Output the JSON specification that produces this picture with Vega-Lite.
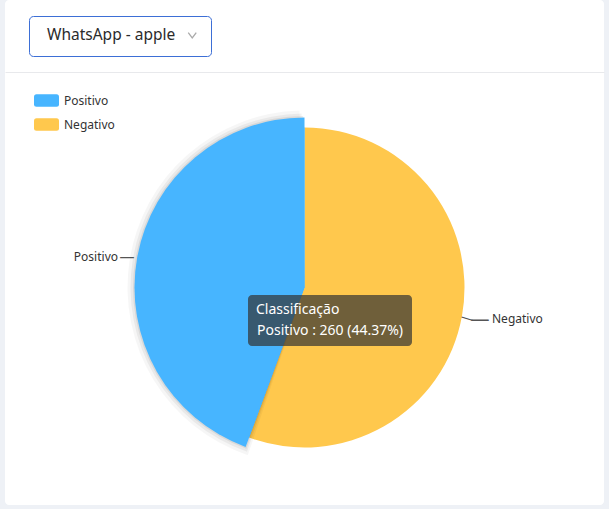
{
  "$schema": "https://vega.github.io/schema/vega-lite/v6.json",
  "width": 609,
  "height": 509,
  "autosize": {"type": "fit", "contains": "padding"},
  "padding": {"top": 0, "left": 5, "right": 5, "bottom": 4},
  "background": "#eef1f6",
  "config": {
    "view": {"stroke": null, "fill": "white", "cornerRadius": 4},
    "font": "Noto Sans"
  },
  "data": {"values": [{"cat": "Negativo", "value": 326}, {"cat": "Positivo", "value": 260}]},
  "transform": [
    {"joinaggregate": [{"op": "sum", "field": "value", "as": "total"}]},
    {"calculate": "datum.cat + ' : ' + datum.value + ' (' + format(datum.value / datum.total, '.2%') + ')'", "as": "tip"}
  ],
  "encoding": {
    "theta": {"field": "value", "type": "quantitative", "stack": true},
    "order": {"field": "cat", "sort": "ascending"}
  },
  "layer": [
    {
      "mark": {"type": "arc", "outerRadius": 160, "yOffset": 35},
      "encoding": {
        "color": {
          "field": "cat", "type": "nominal",
          "scale": {"domain": ["Positivo", "Negativo"], "range": ["#47b5ff", "#ffc84d"]},
          "legend": {
            "orient": "none", "legendX": 29, "legendY": 88, "title": null,
            "symbolType": "M-0.8,-0.5L0.8,-0.5Q1,-0.5 1,-0.3L1,0.3Q1,0.5 0.8,0.5L-0.8,0.5Q-1,0.5 -1,0.3L-1,-0.3Q-1,-0.5 -0.8,-0.5Z",
            "symbolSize": 625, "symbolStrokeWidth": 0, "symbolOpacity": 1,
            "labelFontSize": 12, "labelColor": "#333", "labelOffset": 5, "rowPadding": 5
          }
        }
      }
    },
    {
      "mark": {"type": "arc", "outerRadius": 177, "yOffset": 35, "thetaOffset": -0.028, "theta2Offset": 0.028, "color": "black"},
      "encoding": {"opacity": {"condition": {"test": "datum.cat === 'Positivo'", "value": 0.035}, "value": 0}}
    },
    {
      "mark": {"type": "arc", "outerRadius": 174, "yOffset": 35, "thetaOffset": -0.017, "theta2Offset": 0.017, "color": "black"},
      "encoding": {"opacity": {"condition": {"test": "datum.cat === 'Positivo'", "value": 0.05}, "value": 0}}
    },
    {
      "mark": {"type": "arc", "outerRadius": 171.5, "yOffset": 35, "thetaOffset": -0.008, "theta2Offset": 0.008, "color": "black"},
      "encoding": {"opacity": {"condition": {"test": "datum.cat === 'Positivo'", "value": 0.07}, "value": 0}}
    },
    {
      "mark": {"type": "arc", "outerRadius": 170, "yOffset": 35},
      "encoding": {
        "fill": {"condition": {"test": "datum.cat === 'Positivo'", "value": "#47b5ff"}, "value": "transparent"}
      }
    },
    {
      "mark": {"type": "text", "radius": 160, "align": "center", "baseline": "middle", "dx": -20, "dy": 33, "fontSize": 15, "color": "#555"},
      "encoding": {"text": {"condition": {"test": "datum.cat === 'Positivo'", "value": "—"}, "value": ""}}
    },
    {
      "mark": {"type": "text", "radius": 160, "align": "center", "baseline": "middle", "dx": 18, "dy": 39.3, "fontSize": 19, "color": "#555"},
      "encoding": {"text": {"condition": {"test": "datum.cat === 'Negativo'", "value": "—"}, "value": ""}}
    },
    {
      "mark": {"type": "text", "radius": 160, "align": "center", "baseline": "middle", "dx": 16.25, "dy": 34.35, "fontSize": 13, "angle": 17, "color": "#555"},
      "encoding": {"text": {"condition": {"test": "datum.cat === 'Negativo'", "value": "—"}, "value": ""}}
    },
    {
      "mark": {"type": "text", "radius": 160, "align": "right", "baseline": "middle", "dx": -29, "dy": 33, "fontSize": 12, "color": "#333"},
      "encoding": {"text": {"condition": {"test": "datum.cat === 'Positivo'", "field": "cat", "type": "nominal"}, "value": ""}}
    },
    {
      "mark": {"type": "text", "radius": 160, "align": "left", "baseline": "middle", "dx": 30, "dy": 38.5, "fontSize": 12, "color": "#333"},
      "encoding": {"text": {"condition": {"test": "datum.cat === 'Negativo'", "field": "cat", "type": "nominal"}, "value": ""}}
    },
    {
      "transform": [{"filter": "datum.cat === 'Positivo'"}],
      "mark": {"type": "point", "opacity": 0, "size": 0},
      "encoding": {
        "x": {
          "field": "value", "type": "quantitative",
          "axis": {"orient": "top", "offset": -72, "domainColor": "#e8e9ec", "domainWidth": 1, "ticks": false, "labels": false, "grid": false, "title": null}
        },
        "strokeDash": {
          "field": "tip", "type": "nominal",
          "legend": {
            "orient": "none", "legendX": 243, "legendY": 295, "title": "Classificação",
            "fillColor": "rgba(50,50,50,0.7)", "cornerRadius": 4, "padding": 8,
            "titleColor": "white", "titleFontSize": 14, "titleFontWeight": "normal", "titlePadding": 7,
            "labelColor": "white", "labelFontSize": 14, "labelLimit": 300, "labelOffset": -13,
            "symbolSize": 0, "symbolOpacity": 0, "symbolStrokeWidth": 0
          }
        }
      }
    },
    {
      "mark": {"type": "point", "opacity": 0, "size": 0},
      "encoding": {
        "size": {
          "field": "value", "type": "quantitative",
          "scale": {"range": [64, 64]},
          "legend": {
            "orient": "none", "legendX": 24, "legendY": 16, "title": null,
            "values": [260], "labelExpr": "'WhatsApp - apple'", "labelOffset": -9, "labelLimit": 300,
            "labelFontSize": 15.5, "labelColor": "#2b2b2b",
            "strokeColor": "#3d6fd6", "cornerRadius": 4, "padding": 11.5,
            "symbolType": "M-1,0M35,-0.65L36,0.65L37,-0.65M36.8,0", "symbolStrokeColor": "#aaa", "symbolFillColor": "transparent",
            "symbolStrokeWidth": 1.3, "symbolOpacity": 1
          }
        }
      }
    }
  ]
}
